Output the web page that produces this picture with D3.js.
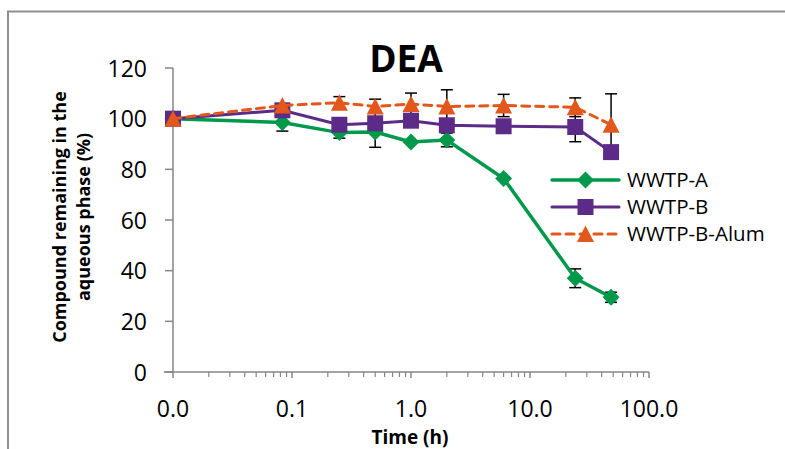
<!DOCTYPE html>
<html lang="en">
<head>
<meta charset="UTF-8">
<title>DEA</title>
<script src="https://cdn.jsdelivr.net/npm/d3@7"></script>
<style>
    body { margin: 0; background: #fff; }
    svg { display: block; font-family: "Open Sans", "DejaVu Sans", sans-serif; }
</style>
</head>
<body>
<svg id="chart"></svg>
<script>
// time points (h); t = 0 is drawn at 0.01 on the log axis
var times = [0.01, 0.083, 0.25, 0.5, 1, 2, 6, 24, 48];

var seriesNames = ["WWTP-A", "WWTP-B", "WWTP-B-Alum"];
var valuesA    = [100, 98.5, 94.5, 94.7, 90.8, 91.6, 76.4, 37.0, 29.5];
var valuesB    = [100, 103.3, 97.6, 98.2, 99.2, 97.4, 97.0, 96.7, 86.8];
var valuesAlum = [100, 105.2, 106.3, 104.8, 105.8, 104.8, 105.2, 104.5, 97.6];
var errA    = [0, 3.4, 2.2, 0, 0, 2.7, 0, 3.7, 2.0];
var errB    = [0, 0, 0, 9.5, 0, 0, 0, 5.8, 0];
var errAlum = [0, 0, 2.4, 0, 4.3, 6.6, 4.4, 3.7, 12.2];

var yTicks = [0, 20, 40, 60, 80, 100, 120];
var xMajor = [0.01, 0.1, 1, 10, 100];

var width = 785, height = 449;
var svg = d3.select('#chart').attr('width', width).attr('height', height);

// frame of the chart area
svg.append('path')
    .attr('d', 'M8,' + (height + 5) + 'V11.5H' + (width + 5))
    .attr('fill', 'none')
    .attr('stroke', '#8f8f8f')
    .attr('stroke-width', 2);

var x = d3.scaleLog().domain([0.01, 100]).range([173, 649]);
var y = d3.scaleLinear().domain([0, 120]).range([372, 68]);

var axisColor = '#868686';

// x axis: major + minor ticks
var xMinor = [];
xMajor.slice(0, -1).forEach(function (d) {
    for (var k = 2; k <= 9; k++) xMinor.push(d * k);
});
var gx = svg.append('g').attr('transform', 'translate(0,' + y(0) + ')');
gx.append('line').attr('x1', 164).attr('x2', x(100)).attr('stroke', axisColor).attr('stroke-width', 1.5);
gx.selectAll('.minor').data(xMinor).enter().append('line')
    .attr('x1', function (d) { return x(d); }).attr('x2', function (d) { return x(d); })
    .attr('y1', 0).attr('y2', 5)
    .attr('stroke', axisColor).attr('stroke-width', 1.2);
gx.selectAll('.major').data(xMajor).enter().append('line')
    .attr('x1', function (d) { return x(d); }).attr('x2', function (d) { return x(d); })
    .attr('y1', 0).attr('y2', 6)
    .attr('stroke', axisColor).attr('stroke-width', 1.5);
gx.selectAll('text').data(xMajor).enter().append('text')
    .attr('x', function (d) { return x(d); })
    .attr('y', 45)
    .attr('text-anchor', 'middle')
    .attr('font-size', 23)
    .attr('fill', '#000')
    .text(d3.format('.1f'));

// y axis
var gy = svg.append('g');
gy.append('line').attr('x1', x(0.01)).attr('x2', x(0.01))
    .attr('y1', y(120)).attr('y2', y(0)).attr('stroke', axisColor).attr('stroke-width', 1.5);
gy.selectAll('.tick').data(yTicks).enter().append('line')
    .attr('x1', x(0.01) - 8).attr('x2', x(0.01))
    .attr('y1', function (d) { return y(d); }).attr('y2', function (d) { return y(d); })
    .attr('stroke', axisColor).attr('stroke-width', 1.5);
gy.selectAll('text').data(yTicks).enter().append('text')
    .attr('x', 147)
    .attr('y', function (d) { return y(d) + 8.5; })
    .attr('text-anchor', 'end')
    .attr('font-size', 23)
    .attr('fill', '#000')
    .text(function (d) { return d; });

// titles
svg.append('text').attr('x', 406).attr('y', 72).attr('text-anchor', 'middle')
    .attr('font-size', 37).attr('font-weight', 'bold').text('DEA');
svg.append('text').attr('x', 410).attr('y', 444).attr('text-anchor', 'middle')
    .attr('font-size', 19).attr('font-weight', 'bold').text('Time (h)');
var yt = svg.append('text').attr('transform', 'translate(0,217) rotate(-90)')
    .attr('text-anchor', 'middle').attr('font-size', 18).attr('font-weight', 'bold');
yt.append('tspan').attr('x', 0).attr('y', 66).text('Compound remaining in the');
yt.append('tspan').attr('x', 0).attr('y', 90).text('aqueous phase (%)');

// series
var series = [
    { name: seriesNames[0], values: valuesA, err: errA, color: '#00994C', marker: 'diamond', dash: null, lw: 3.5 },
    { name: seriesNames[1], values: valuesB, err: errB, color: '#5C2B87', marker: 'square', dash: null, lw: 3 },
    { name: seriesNames[2], values: valuesAlum, err: errAlum, color: '#E2571B', marker: 'triangle', dash: '8,6', lw: 3 }
];

function markerPath(type) {
    if (type === 'diamond') return 'M0,-8.5L8.5,0L0,8.5L-8.5,0Z';
    if (type === 'square') return 'M-8,-8H8V8H-8Z';
    return 'M0,-8.5L8.5,8L-8.5,8Z';
}

var line = d3.line()
    .x(function (d) { return x(d.t); })
    .y(function (d) { return y(d.v); });

// error bars (under the markers)
var eb = svg.append('g').attr('stroke', '#000').attr('stroke-width', 1.5);
series.forEach(function (s) {
    s.values.forEach(function (v, i) {
        var e = s.err[i];
        if (!e) return;
        var cx = x(times[i]);
        eb.append('line').attr('x1', cx).attr('x2', cx).attr('y1', y(v + e)).attr('y2', y(v - e));
        eb.append('line').attr('x1', cx - 6).attr('x2', cx + 6).attr('y1', y(v + e)).attr('y2', y(v + e));
        eb.append('line').attr('x1', cx - 6).attr('x2', cx + 6).attr('y1', y(v - e)).attr('y2', y(v - e));
    });
});

series.forEach(function (s) {
    var pts = s.values.map(function (v, i) { return { t: times[i], v: v }; });
    var g = svg.append('g');
    g.append('path').datum(pts)
        .attr('d', line)
        .attr('fill', 'none')
        .attr('stroke', s.color)
        .attr('stroke-width', s.lw)
        .attr('stroke-linecap', 'round')
        .attr('stroke-dasharray', s.dash);
    g.selectAll('path.m').data(pts).enter().append('path')
        .attr('class', 'm')
        .attr('transform', function (d) { return 'translate(' + x(d.t) + ',' + y(d.v) + ')'; })
        .attr('d', markerPath(s.marker))
        .attr('fill', s.color);
});

// legend
var legend = svg.append('g');
series.forEach(function (s, i) {
    var ly = 180 + i * 27;
    legend.append('line').attr('x1', 552).attr('x2', 619).attr('y1', ly).attr('y2', ly)
        .attr('stroke', s.color).attr('stroke-width', s.lw)
        .attr('stroke-linecap', 'round').attr('stroke-dasharray', s.dash);
    legend.append('path').attr('transform', 'translate(585.5,' + ly + ')')
        .attr('d', markerPath(s.marker)).attr('fill', s.color);
    legend.append('text').attr('x', 627).attr('y', ly + 7)
        .attr('font-size', 20.5).attr('fill', '#000').text(s.name);
});
</script>
</body>
</html>
